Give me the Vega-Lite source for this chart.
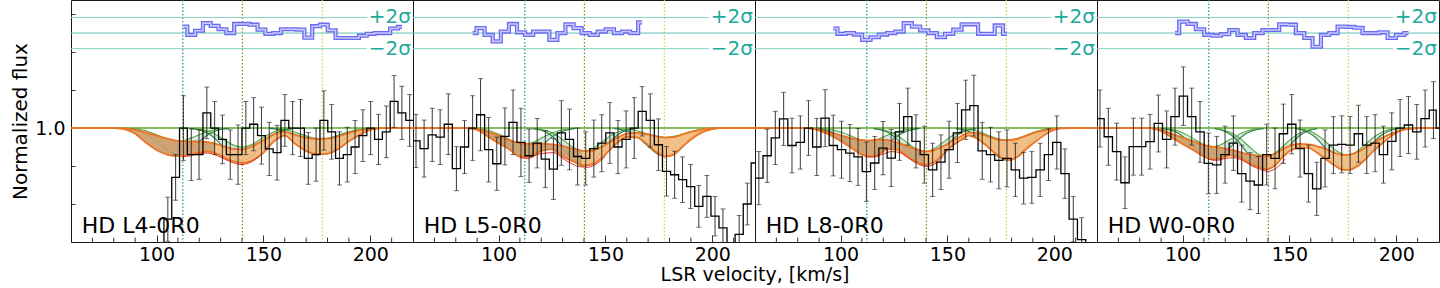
{
"$schema":"https://vega.github.io/schema/vega-lite/v6.json",
"padding":{"left":10,"top":-2,"right":0,"bottom":0},
"background":"white",
"bounds":"flush",
"data":{"values":[
{"k":"l","p":1,"t":"HD L4-0R0"},{"k":"l","p":2,"t":"HD L5-0R0"},{"k":"l","p":3,"t":"HD L8-0R0"},{"k":"l","p":4,"t":"HD W0-0R0"},
{"k":"v","p":1,"v":112.3,"c":"a"},{"k":"v","p":1,"v":140.2,"c":"b"},{"k":"v","p":1,"v":177.6,"c":"c"},
{"k":"v","p":2,"v":112.3,"c":"a"},{"k":"v","p":2,"v":140.2,"c":"b"},{"k":"v","p":2,"v":177.6,"c":"c"},
{"k":"v","p":3,"v":112.3,"c":"a"},{"k":"v","p":3,"v":140.2,"c":"b"},{"k":"v","p":3,"v":177.6,"c":"c"},
{"k":"v","p":4,"v":112.3,"c":"a"},{"k":"v","p":4,"v":140.2,"c":"b"},{"k":"v","p":4,"v":177.6,"c":"c"},
{"k":"g","p":1,"f":1.291,"t":"+2σ"},{"k":"g","p":1,"f":1.209,"t":"−2σ"},{"k":"g","p":1,"f":1.25,"t":""},
{"k":"g","p":2,"f":1.291,"t":"+2σ"},{"k":"g","p":2,"f":1.209,"t":"−2σ"},{"k":"g","p":2,"f":1.25,"t":""},
{"k":"g","p":3,"f":1.291,"t":"+2σ"},{"k":"g","p":3,"f":1.209,"t":"−2σ"},{"k":"g","p":3,"f":1.25,"t":""},
{"k":"g","p":4,"f":1.291,"t":"+2σ"},{"k":"g","p":4,"f":1.209,"t":"−2σ"},{"k":"g","p":4,"f":1.25,"t":""},
{"k":"t","p":1,"v":70},{"k":"t","p":1,"v":80},{"k":"t","p":1,"v":90},{"k":"t","p":1,"v":110},{"k":"t","p":1,"v":120},{"k":"t","p":1,"v":130},{"k":"t","p":1,"v":140},{"k":"t","p":1,"v":160},{"k":"t","p":1,"v":170},{"k":"t","p":1,"v":180},{"k":"t","p":1,"v":190},{"k":"t","p":1,"v":210},
{"k":"t","p":2,"v":70},{"k":"t","p":2,"v":80},{"k":"t","p":2,"v":90},{"k":"t","p":2,"v":110},{"k":"t","p":2,"v":120},{"k":"t","p":2,"v":130},{"k":"t","p":2,"v":140},{"k":"t","p":2,"v":160},{"k":"t","p":2,"v":170},{"k":"t","p":2,"v":180},{"k":"t","p":2,"v":190},{"k":"t","p":2,"v":210},
{"k":"t","p":3,"v":70},{"k":"t","p":3,"v":80},{"k":"t","p":3,"v":90},{"k":"t","p":3,"v":110},{"k":"t","p":3,"v":120},{"k":"t","p":3,"v":130},{"k":"t","p":3,"v":140},{"k":"t","p":3,"v":160},{"k":"t","p":3,"v":170},{"k":"t","p":3,"v":180},{"k":"t","p":3,"v":190},{"k":"t","p":3,"v":210},
{"k":"t","p":4,"v":70},{"k":"t","p":4,"v":80},{"k":"t","p":4,"v":90},{"k":"t","p":4,"v":110},{"k":"t","p":4,"v":120},{"k":"t","p":4,"v":130},{"k":"t","p":4,"v":140},{"k":"t","p":4,"v":160},{"k":"t","p":4,"v":170},{"k":"t","p":4,"v":180},{"k":"t","p":4,"v":190},{"k":"t","p":4,"v":210},

{"k":"s","p":1,"v":98.0,"f":0.55,"e":0.06},{"k":"s","p":1,"v":101.65,"f":0.69,"e":0.06},{"k":"s","p":1,"v":105.3,"f":0.76,"e":0.058},{"k":"s","p":1,"v":108.95,"f":0.87,"e":0.06},{"k":"s","p":1,"v":112.6,"f":1.0,"e":0.085},{"k":"s","p":1,"v":116.25,"f":0.93,"e":0.068},{"k":"s","p":1,"v":119.9,"f":0.93,"e":0.065},{"k":"s","p":1,"v":123.55,"f":1.04,"e":0.068},{"k":"s","p":1,"v":127.2,"f":1.0,"e":0.07},{"k":"s","p":1,"v":130.85,"f":0.97,"e":0.064},{"k":"s","p":1,"v":134.5,"f":0.93,"e":0.065},{"k":"s","p":1,"v":138.15,"f":0.93,"e":0.078},{"k":"s","p":1,"v":141.8,"f":1.0,"e":0.07},{"k":"s","p":1,"v":145.45,"f":1.01,"e":0.07},{"k":"s","p":1,"v":149.1,"f":0.98,"e":0.075},{"k":"s","p":1,"v":152.75,"f":0.945,"e":0.07},{"k":"s","p":1,"v":156.4,"f":0.935,"e":0.072},{"k":"s","p":1,"v":160.05,"f":1.02,"e":0.068},{"k":"s","p":1,"v":163.7,"f":1.0,"e":0.07},{"k":"s","p":1,"v":167.35,"f":1.0,"e":0.075},{"k":"s","p":1,"v":171.0,"f":0.92,"e":0.068},{"k":"s","p":1,"v":174.65,"f":0.93,"e":0.07},{"k":"s","p":1,"v":178.3,"f":1.02,"e":0.078},{"k":"s","p":1,"v":181.95,"f":0.99,"e":0.072},{"k":"s","p":1,"v":185.6,"f":0.92,"e":0.07},{"k":"s","p":1,"v":189.25,"f":0.93,"e":0.072},{"k":"s","p":1,"v":192.9,"f":0.95,"e":0.07},{"k":"s","p":1,"v":196.55,"f":0.98,"e":0.068},{"k":"s","p":1,"v":200.2,"f":1.0,"e":0.07},{"k":"s","p":1,"v":203.85,"f":0.97,"e":0.066},{"k":"s","p":1,"v":207.5,"f":0.99,"e":0.068},{"k":"s","p":1,"v":211.15,"f":1.07,"e":0.068},{"k":"s","p":1,"v":214.8,"f":1.04,"e":0.07},{"k":"s","p":1,"v":218.45,"f":1.02,"e":0.068},{"k":"s","p":1,"v":220,"f":1.02,"e":0.068},

{"k":"s","p":2,"v":60,"f":0.966,"e":0.07},{"k":"s","p":2,"v":61.4,"f":0.966,"e":0.07},{"k":"s","p":2,"v":65.2,"f":0.946,"e":0.075},{"k":"s","p":2,"v":69.0,"f":0.982,"e":0.07},{"k":"s","p":2,"v":72.7,"f":0.976,"e":0.072},{"k":"s","p":2,"v":76.5,"f":1.01,"e":0.08},{"k":"s","p":2,"v":80.3,"f":0.893,"e":0.058},{"k":"s","p":2,"v":84.1,"f":0.95,"e":0.07},{"k":"s","p":2,"v":87.9,"f":1.0,"e":0.085},{"k":"s","p":2,"v":91.6,"f":1.035,"e":0.095},{"k":"s","p":2,"v":95.4,"f":0.943,"e":0.085},{"k":"s","p":2,"v":99.2,"f":0.906,"e":0.07},{"k":"s","p":2,"v":103.0,"f":0.978,"e":0.075},{"k":"s","p":2,"v":106.8,"f":1.015,"e":0.085},{"k":"s","p":2,"v":110.5,"f":0.962,"e":0.09},{"k":"s","p":2,"v":114.3,"f":0.927,"e":0.07},{"k":"s","p":2,"v":118.1,"f":0.96,"e":0.065},{"k":"s","p":2,"v":121.9,"f":0.918,"e":0.075},{"k":"s","p":2,"v":125.7,"f":0.892,"e":0.08},{"k":"s","p":2,"v":129.4,"f":0.987,"e":0.085},{"k":"s","p":2,"v":133.2,"f":0.97,"e":0.08},{"k":"s","p":2,"v":137.0,"f":0.925,"e":0.075},{"k":"s","p":2,"v":140.8,"f":0.92,"e":0.07},{"k":"s","p":2,"v":144.6,"f":0.946,"e":0.075},{"k":"s","p":2,"v":148.3,"f":0.96,"e":0.075},{"k":"s","p":2,"v":152.1,"f":0.987,"e":0.08},{"k":"s","p":2,"v":155.9,"f":0.95,"e":0.07},{"k":"s","p":2,"v":159.7,"f":0.97,"e":0.075},{"k":"s","p":2,"v":163.5,"f":1.0,"e":0.08},{"k":"s","p":2,"v":167.2,"f":1.044,"e":0.065},{"k":"s","p":2,"v":171.0,"f":1.02,"e":0.07},{"k":"s","p":2,"v":174.8,"f":0.956,"e":0.068},{"k":"s","p":2,"v":178.6,"f":0.886,"e":0.065},{"k":"s","p":2,"v":182.4,"f":0.877,"e":0.062},{"k":"s","p":2,"v":186.1,"f":0.864,"e":0.06},{"k":"s","p":2,"v":189.9,"f":0.846,"e":0.058},{"k":"s","p":2,"v":193.7,"f":0.794,"e":0.055},{"k":"s","p":2,"v":197.5,"f":0.82,"e":0.055},{"k":"s","p":2,"v":201.3,"f":0.768,"e":0.052},{"k":"s","p":2,"v":205.0,"f":0.737,"e":0.05},{"k":"s","p":2,"v":208.8,"f":0.695,"e":0.05},{"k":"s","p":2,"v":212.6,"f":0.72,"e":0.05},{"k":"s","p":2,"v":216.4,"f":0.8,"e":0.055},{"k":"s","p":2,"v":220,"f":0.908,"e":0.06},

{"k":"s","p":3,"v":60,"f":0.868,"e":0.07},{"k":"s","p":3,"v":61.8,"f":0.868,"e":0.07},{"k":"s","p":3,"v":65.7,"f":0.927,"e":0.07},{"k":"s","p":3,"v":69.5,"f":0.974,"e":0.07},{"k":"s","p":3,"v":73.4,"f":1.024,"e":0.07},{"k":"s","p":3,"v":77.3,"f":0.954,"e":0.072},{"k":"s","p":3,"v":81.2,"f":0.962,"e":0.07},{"k":"s","p":3,"v":85.0,"f":1.0,"e":0.072},{"k":"s","p":3,"v":88.9,"f":0.95,"e":0.075},{"k":"s","p":3,"v":92.8,"f":1.026,"e":0.075},{"k":"s","p":3,"v":96.6,"f":0.954,"e":0.08},{"k":"s","p":3,"v":100.5,"f":0.943,"e":0.075},{"k":"s","p":3,"v":104.4,"f":0.934,"e":0.075},{"k":"s","p":3,"v":108.2,"f":0.924,"e":0.075},{"k":"s","p":3,"v":112.1,"f":0.885,"e":0.078},{"k":"s","p":3,"v":116.0,"f":0.908,"e":0.07},{"k":"s","p":3,"v":119.9,"f":0.947,"e":0.07},{"k":"s","p":3,"v":123.7,"f":0.921,"e":0.075},{"k":"s","p":3,"v":127.6,"f":0.99,"e":0.075},{"k":"s","p":3,"v":131.5,"f":1.03,"e":0.075},{"k":"s","p":3,"v":135.3,"f":0.965,"e":0.07},{"k":"s","p":3,"v":139.2,"f":0.93,"e":0.075},{"k":"s","p":3,"v":143.1,"f":0.89,"e":0.07},{"k":"s","p":3,"v":147.0,"f":0.91,"e":0.072},{"k":"s","p":3,"v":150.8,"f":0.943,"e":0.075},{"k":"s","p":3,"v":154.7,"f":0.987,"e":0.078},{"k":"s","p":3,"v":158.6,"f":1.048,"e":0.078},{"k":"s","p":3,"v":162.4,"f":1.059,"e":0.08},{"k":"s","p":3,"v":166.3,"f":0.94,"e":0.075},{"k":"s","p":3,"v":170.2,"f":0.93,"e":0.072},{"k":"s","p":3,"v":174.1,"f":0.915,"e":0.075},{"k":"s","p":3,"v":177.9,"f":0.92,"e":0.075},{"k":"s","p":3,"v":181.8,"f":0.89,"e":0.07},{"k":"s","p":3,"v":185.7,"f":0.868,"e":0.068},{"k":"s","p":3,"v":189.5,"f":0.87,"e":0.068},{"k":"s","p":3,"v":193.4,"f":0.89,"e":0.07},{"k":"s","p":3,"v":197.3,"f":0.93,"e":0.068},{"k":"s","p":3,"v":201.2,"f":0.962,"e":0.07},{"k":"s","p":3,"v":205.0,"f":0.88,"e":0.065},{"k":"s","p":3,"v":208.9,"f":0.76,"e":0.06},{"k":"s","p":3,"v":212.8,"f":0.706,"e":0.058},{"k":"s","p":3,"v":216.7,"f":0.62,"e":0.05},{"k":"s","p":3,"v":220,"f":0.58,"e":0.05},

{"k":"s","p":4,"v":60,"f":1.025,"e":0.075},{"k":"s","p":4,"v":61.4,"f":1.025,"e":0.075},{"k":"s","p":4,"v":65.3,"f":0.977,"e":0.075},{"k":"s","p":4,"v":69.2,"f":0.938,"e":0.075},{"k":"s","p":4,"v":73.1,"f":0.856,"e":0.068},{"k":"s","p":4,"v":77.0,"f":0.951,"e":0.075},{"k":"s","p":4,"v":80.9,"f":0.951,"e":0.075},{"k":"s","p":4,"v":84.8,"f":0.964,"e":0.072},{"k":"s","p":4,"v":88.7,"f":1.012,"e":0.075},{"k":"s","p":4,"v":92.6,"f":0.97,"e":0.075},{"k":"s","p":4,"v":96.5,"f":1.03,"e":0.075},{"k":"s","p":4,"v":100.4,"f":1.084,"e":0.077},{"k":"s","p":4,"v":104.3,"f":1.03,"e":0.075},{"k":"s","p":4,"v":108.2,"f":0.99,"e":0.08},{"k":"s","p":4,"v":112.1,"f":0.907,"e":0.08},{"k":"s","p":4,"v":116.0,"f":0.903,"e":0.075},{"k":"s","p":4,"v":119.9,"f":0.93,"e":0.075},{"k":"s","p":4,"v":123.8,"f":0.96,"e":0.072},{"k":"s","p":4,"v":127.7,"f":0.88,"e":0.075},{"k":"s","p":4,"v":131.6,"f":0.86,"e":0.075},{"k":"s","p":4,"v":135.5,"f":0.85,"e":0.075},{"k":"s","p":4,"v":139.4,"f":0.93,"e":0.08},{"k":"s","p":4,"v":143.3,"f":0.92,"e":0.08},{"k":"s","p":4,"v":147.2,"f":0.985,"e":0.078},{"k":"s","p":4,"v":151.1,"f":1.01,"e":0.078},{"k":"s","p":4,"v":155.0,"f":0.946,"e":0.075},{"k":"s","p":4,"v":158.9,"f":0.88,"e":0.075},{"k":"s","p":4,"v":162.8,"f":0.84,"e":0.07},{"k":"s","p":4,"v":166.7,"f":0.92,"e":0.075},{"k":"s","p":4,"v":170.6,"f":0.955,"e":0.075},{"k":"s","p":4,"v":174.5,"f":0.957,"e":0.075},{"k":"s","p":4,"v":178.4,"f":0.955,"e":0.075},{"k":"s","p":4,"v":182.3,"f":0.985,"e":0.075},{"k":"s","p":4,"v":186.2,"f":0.955,"e":0.075},{"k":"s","p":4,"v":190.1,"f":0.96,"e":0.075},{"k":"s","p":4,"v":194.0,"f":0.93,"e":0.075},{"k":"s","p":4,"v":197.9,"f":0.965,"e":0.075},{"k":"s","p":4,"v":201.8,"f":1.0,"e":0.075},{"k":"s","p":4,"v":205.7,"f":1.008,"e":0.075},{"k":"s","p":4,"v":209.6,"f":0.99,"e":0.072},{"k":"s","p":4,"v":213.5,"f":1.025,"e":0.075},{"k":"s","p":4,"v":217.4,"f":1.047,"e":0.075},{"k":"s","p":4,"v":220,"f":1.0,"e":0.075},

{"k":"b","p":1,"sg":"a","v":60,"hi":1,"lo":1},{"k":"b","p":1,"sg":"a","v":80,"hi":1,"lo":1},{"k":"b","p":1,"sg":"a","v":85,"hi":0.999,"lo":0.997},{"k":"b","p":1,"sg":"a","v":90,"hi":0.995,"lo":0.985},{"k":"b","p":1,"sg":"a","v":95,"hi":0.988,"lo":0.962},{"k":"b","p":1,"sg":"a","v":100,"hi":0.98,"lo":0.942},{"k":"b","p":1,"sg":"a","v":105,"hi":0.972,"lo":0.93},{"k":"b","p":1,"sg":"a","v":110,"hi":0.966,"lo":0.926},{"k":"b","p":1,"sg":"a","v":115,"hi":0.964,"lo":0.93},{"k":"b","p":1,"sg":"a","v":120,"hi":0.965,"lo":0.936},{"k":"b","p":1,"sg":"a","v":124,"hi":0.963,"lo":0.938},{"k":"b","p":1,"sg":"a","v":127,"hi":0.96,"lo":0.935},
{"k":"b","p":1,"sg":"b","v":127,"hi":0.96,"lo":0.935},{"k":"b","p":1,"sg":"b","v":130,"hi":0.954,"lo":0.928},{"k":"b","p":1,"sg":"b","v":135,"hi":0.946,"lo":0.914},{"k":"b","p":1,"sg":"b","v":140,"hi":0.944,"lo":0.908},{"k":"b","p":1,"sg":"b","v":145,"hi":0.952,"lo":0.915},{"k":"b","p":1,"sg":"b","v":150,"hi":0.968,"lo":0.935},{"k":"b","p":1,"sg":"b","v":155,"hi":0.984,"lo":0.965},{"k":"b","p":1,"sg":"b","v":160,"hi":0.99,"lo":0.98},{"k":"b","p":1,"sg":"b","v":165,"hi":0.982,"lo":0.958},{"k":"b","p":1,"sg":"b","v":170,"hi":0.974,"lo":0.94},{"k":"b","p":1,"sg":"b","v":175,"hi":0.971,"lo":0.931},{"k":"b","p":1,"sg":"b","v":180,"hi":0.972,"lo":0.932},{"k":"b","p":1,"sg":"b","v":185,"hi":0.978,"lo":0.945},{"k":"b","p":1,"sg":"b","v":190,"hi":0.987,"lo":0.965},{"k":"b","p":1,"sg":"b","v":195,"hi":0.994,"lo":0.982},{"k":"b","p":1,"sg":"b","v":200,"hi":0.998,"lo":0.995},{"k":"b","p":1,"sg":"b","v":205,"hi":1,"lo":1},{"k":"b","p":1,"sg":"b","v":220,"hi":1,"lo":1},

{"k":"b","p":2,"sg":"a","v":60,"hi":1,"lo":1},{"k":"b","p":2,"sg":"a","v":85,"hi":1,"lo":1},{"k":"b","p":2,"sg":"a","v":90,"hi":0.998,"lo":0.995},{"k":"b","p":2,"sg":"a","v":95,"hi":0.99,"lo":0.978},{"k":"b","p":2,"sg":"a","v":100,"hi":0.98,"lo":0.96},{"k":"b","p":2,"sg":"a","v":105,"hi":0.968,"lo":0.944},{"k":"b","p":2,"sg":"a","v":110,"hi":0.96,"lo":0.925},{"k":"b","p":2,"sg":"a","v":115,"hi":0.958,"lo":0.924},{"k":"b","p":2,"sg":"a","v":120,"hi":0.959,"lo":0.94},{"k":"b","p":2,"sg":"a","v":125,"hi":0.957,"lo":0.944},{"k":"b","p":2,"sg":"a","v":130,"hi":0.953,"lo":0.925},{"k":"b","p":2,"sg":"a","v":135,"hi":0.945,"lo":0.912},{"k":"b","p":2,"sg":"a","v":139,"hi":0.94,"lo":0.902},
{"k":"b","p":2,"sg":"b","v":139,"hi":0.94,"lo":0.902},{"k":"b","p":2,"sg":"b","v":143,"hi":0.94,"lo":0.903},{"k":"b","p":2,"sg":"b","v":148,"hi":0.95,"lo":0.92},{"k":"b","p":2,"sg":"b","v":152,"hi":0.963,"lo":0.942},{"k":"b","p":2,"sg":"b","v":156,"hi":0.976,"lo":0.963},{"k":"b","p":2,"sg":"b","v":160,"hi":0.985,"lo":0.977},{"k":"b","p":2,"sg":"b","v":165,"hi":0.987,"lo":0.975},{"k":"b","p":2,"sg":"b","v":170,"hi":0.983,"lo":0.955},{"k":"b","p":2,"sg":"b","v":175,"hi":0.977,"lo":0.932},{"k":"b","p":2,"sg":"b","v":178,"hi":0.975,"lo":0.925},{"k":"b","p":2,"sg":"b","v":182,"hi":0.976,"lo":0.93},{"k":"b","p":2,"sg":"b","v":186,"hi":0.983,"lo":0.95},{"k":"b","p":2,"sg":"b","v":190,"hi":0.99,"lo":0.97},{"k":"b","p":2,"sg":"b","v":195,"hi":0.996,"lo":0.988},{"k":"b","p":2,"sg":"b","v":200,"hi":1,"lo":0.997},{"k":"b","p":2,"sg":"b","v":205,"hi":1,"lo":1},{"k":"b","p":2,"sg":"b","v":220,"hi":1,"lo":1},

{"k":"b","p":3,"sg":"a","v":60,"hi":1,"lo":1},{"k":"b","p":3,"sg":"a","v":85,"hi":1,"lo":1},{"k":"b","p":3,"sg":"a","v":90,"hi":0.996,"lo":0.993},{"k":"b","p":3,"sg":"a","v":95,"hi":0.988,"lo":0.982},{"k":"b","p":3,"sg":"a","v":100,"hi":0.981,"lo":0.966},{"k":"b","p":3,"sg":"a","v":105,"hi":0.973,"lo":0.948},{"k":"b","p":3,"sg":"a","v":110,"hi":0.968,"lo":0.93},{"k":"b","p":3,"sg":"a","v":114,"hi":0.967,"lo":0.925},{"k":"b","p":3,"sg":"a","v":118,"hi":0.97,"lo":0.93},{"k":"b","p":3,"sg":"a","v":122,"hi":0.968,"lo":0.945},{"k":"b","p":3,"sg":"a","v":126,"hi":0.963,"lo":0.944},{"k":"b","p":3,"sg":"a","v":130,"hi":0.955,"lo":0.93},{"k":"b","p":3,"sg":"a","v":135,"hi":0.945,"lo":0.912},{"k":"b","p":3,"sg":"a","v":139.5,"hi":0.938,"lo":0.903},
{"k":"b","p":3,"sg":"b","v":139.5,"hi":0.938,"lo":0.903},{"k":"b","p":3,"sg":"b","v":144,"hi":0.942,"lo":0.91},{"k":"b","p":3,"sg":"b","v":148,"hi":0.952,"lo":0.93},{"k":"b","p":3,"sg":"b","v":152,"hi":0.965,"lo":0.952},{"k":"b","p":3,"sg":"b","v":156,"hi":0.977,"lo":0.967},{"k":"b","p":3,"sg":"b","v":160,"hi":0.988,"lo":0.98},{"k":"b","p":3,"sg":"b","v":164,"hi":0.986,"lo":0.972},{"k":"b","p":3,"sg":"b","v":168,"hi":0.98,"lo":0.955},{"k":"b","p":3,"sg":"b","v":172,"hi":0.972,"lo":0.935},{"k":"b","p":3,"sg":"b","v":176,"hi":0.968,"lo":0.92},{"k":"b","p":3,"sg":"b","v":179,"hi":0.968,"lo":0.915},{"k":"b","p":3,"sg":"b","v":183,"hi":0.972,"lo":0.925},{"k":"b","p":3,"sg":"b","v":187,"hi":0.98,"lo":0.945},{"k":"b","p":3,"sg":"b","v":191,"hi":0.988,"lo":0.963},{"k":"b","p":3,"sg":"b","v":195,"hi":0.994,"lo":0.98},{"k":"b","p":3,"sg":"b","v":199,"hi":0.998,"lo":0.993},{"k":"b","p":3,"sg":"b","v":203,"hi":1,"lo":0.999},{"k":"b","p":3,"sg":"b","v":208,"hi":1,"lo":1},{"k":"b","p":3,"sg":"b","v":220,"hi":1,"lo":1},

{"k":"b","p":4,"sg":"a","v":60,"hi":1,"lo":1},{"k":"b","p":4,"sg":"a","v":85,"hi":1,"lo":1},{"k":"b","p":4,"sg":"a","v":90,"hi":0.995,"lo":0.992},{"k":"b","p":4,"sg":"a","v":95,"hi":0.985,"lo":0.975},{"k":"b","p":4,"sg":"a","v":100,"hi":0.975,"lo":0.958},{"k":"b","p":4,"sg":"a","v":105,"hi":0.965,"lo":0.942},{"k":"b","p":4,"sg":"a","v":110,"hi":0.955,"lo":0.925},{"k":"b","p":4,"sg":"a","v":114,"hi":0.951,"lo":0.917},{"k":"b","p":4,"sg":"a","v":118,"hi":0.948,"lo":0.92},{"k":"b","p":4,"sg":"a","v":122,"hi":0.944,"lo":0.928},{"k":"b","p":4,"sg":"a","v":126,"hi":0.938,"lo":0.925},{"k":"b","p":4,"sg":"a","v":130,"hi":0.932,"lo":0.912},{"k":"b","p":4,"sg":"a","v":135,"hi":0.927,"lo":0.898},{"k":"b","p":4,"sg":"a","v":139.5,"hi":0.925,"lo":0.891},
{"k":"b","p":4,"sg":"b","v":139.5,"hi":0.925,"lo":0.891},{"k":"b","p":4,"sg":"b","v":143,"hi":0.932,"lo":0.9},{"k":"b","p":4,"sg":"b","v":147,"hi":0.945,"lo":0.924},{"k":"b","p":4,"sg":"b","v":151,"hi":0.955,"lo":0.942},{"k":"b","p":4,"sg":"b","v":155,"hi":0.958,"lo":0.949},{"k":"b","p":4,"sg":"b","v":159,"hi":0.957,"lo":0.948},{"k":"b","p":4,"sg":"b","v":163,"hi":0.952,"lo":0.935},{"k":"b","p":4,"sg":"b","v":167,"hi":0.945,"lo":0.918},{"k":"b","p":4,"sg":"b","v":171,"hi":0.935,"lo":0.902},{"k":"b","p":4,"sg":"b","v":175,"hi":0.929,"lo":0.89},{"k":"b","p":4,"sg":"b","v":178,"hi":0.93,"lo":0.89},{"k":"b","p":4,"sg":"b","v":182,"hi":0.937,"lo":0.9},{"k":"b","p":4,"sg":"b","v":186,"hi":0.95,"lo":0.92},{"k":"b","p":4,"sg":"b","v":190,"hi":0.963,"lo":0.943},{"k":"b","p":4,"sg":"b","v":194,"hi":0.976,"lo":0.962},{"k":"b","p":4,"sg":"b","v":198,"hi":0.986,"lo":0.98},{"k":"b","p":4,"sg":"b","v":202,"hi":0.994,"lo":0.993},{"k":"b","p":4,"sg":"b","v":206,"hi":0.998,"lo":0.998},{"k":"b","p":4,"sg":"b","v":210,"hi":1,"lo":1},{"k":"b","p":4,"sg":"b","v":220,"hi":1,"lo":1},

{"k":"c","p":1,"c":1,"v":86,"hi":0.999,"lo":0.999},{"k":"c","p":1,"c":1,"v":90,"hi":0.998,"lo":0.996},{"k":"c","p":1,"c":1,"v":94,"hi":0.994,"lo":0.988},{"k":"c","p":1,"c":1,"v":98,"hi":0.987,"lo":0.974},{"k":"c","p":1,"c":1,"v":102,"hi":0.978,"lo":0.955},{"k":"c","p":1,"c":1,"v":106,"hi":0.969,"lo":0.937},{"k":"c","p":1,"c":1,"v":110,"hi":0.965,"lo":0.93},{"k":"c","p":1,"c":1,"v":114,"hi":0.969,"lo":0.937},{"k":"c","p":1,"c":1,"v":118,"hi":0.978,"lo":0.955},{"k":"c","p":1,"c":1,"v":122,"hi":0.987,"lo":0.974},{"k":"c","p":1,"c":1,"v":126,"hi":0.994,"lo":0.988},{"k":"c","p":1,"c":1,"v":130,"hi":0.998,"lo":0.996},{"k":"c","p":1,"c":1,"v":134,"hi":0.999,"lo":0.999},
{"k":"c","p":1,"c":2,"v":116,"hi":0.999,"lo":0.998},{"k":"c","p":1,"c":2,"v":120,"hi":0.997,"lo":0.995},{"k":"c","p":1,"c":2,"v":124,"hi":0.992,"lo":0.986},{"k":"c","p":1,"c":2,"v":128,"hi":0.982,"lo":0.969},{"k":"c","p":1,"c":2,"v":132,"hi":0.968,"lo":0.945},{"k":"c","p":1,"c":2,"v":136,"hi":0.955,"lo":0.924},{"k":"c","p":1,"c":2,"v":140,"hi":0.95,"lo":0.915},{"k":"c","p":1,"c":2,"v":144,"hi":0.955,"lo":0.924},{"k":"c","p":1,"c":2,"v":148,"hi":0.968,"lo":0.945},{"k":"c","p":1,"c":2,"v":152,"hi":0.982,"lo":0.969},{"k":"c","p":1,"c":2,"v":156,"hi":0.992,"lo":0.986},{"k":"c","p":1,"c":2,"v":160,"hi":0.997,"lo":0.995},{"k":"c","p":1,"c":2,"v":164,"hi":0.999,"lo":0.998},
{"k":"c","p":1,"c":3,"v":153,"hi":0.999,"lo":0.999},{"k":"c","p":1,"c":3,"v":157,"hi":0.998,"lo":0.996},{"k":"c","p":1,"c":3,"v":161,"hi":0.995,"lo":0.988},{"k":"c","p":1,"c":3,"v":165,"hi":0.989,"lo":0.975},{"k":"c","p":1,"c":3,"v":169,"hi":0.981,"lo":0.956},{"k":"c","p":1,"c":3,"v":173,"hi":0.974,"lo":0.939},{"k":"c","p":1,"c":3,"v":177,"hi":0.971,"lo":0.932},{"k":"c","p":1,"c":3,"v":181,"hi":0.974,"lo":0.939},{"k":"c","p":1,"c":3,"v":185,"hi":0.981,"lo":0.956},{"k":"c","p":1,"c":3,"v":189,"hi":0.989,"lo":0.975},{"k":"c","p":1,"c":3,"v":193,"hi":0.995,"lo":0.988},{"k":"c","p":1,"c":3,"v":197,"hi":0.998,"lo":0.996},{"k":"c","p":1,"c":3,"v":201,"hi":0.999,"lo":0.999},

{"k":"c","p":2,"c":1,"v":88,"hi":0.999,"lo":0.999},{"k":"c","p":2,"c":1,"v":92,"hi":0.997,"lo":0.995},{"k":"c","p":2,"c":1,"v":96,"hi":0.993,"lo":0.987},{"k":"c","p":2,"c":1,"v":100,"hi":0.984,"lo":0.972},{"k":"c","p":2,"c":1,"v":104,"hi":0.973,"lo":0.951},{"k":"c","p":2,"c":1,"v":108,"hi":0.962,"lo":0.932},{"k":"c","p":2,"c":1,"v":112,"hi":0.958,"lo":0.924},{"k":"c","p":2,"c":1,"v":116,"hi":0.962,"lo":0.932},{"k":"c","p":2,"c":1,"v":120,"hi":0.973,"lo":0.951},{"k":"c","p":2,"c":1,"v":124,"hi":0.984,"lo":0.972},{"k":"c","p":2,"c":1,"v":128,"hi":0.993,"lo":0.987},{"k":"c","p":2,"c":1,"v":132,"hi":0.997,"lo":0.995},{"k":"c","p":2,"c":1,"v":136,"hi":0.999,"lo":0.999},
{"k":"c","p":2,"c":2,"v":116,"hi":0.999,"lo":0.998},{"k":"c","p":2,"c":2,"v":120,"hi":0.996,"lo":0.994},{"k":"c","p":2,"c":2,"v":124,"hi":0.99,"lo":0.983},{"k":"c","p":2,"c":2,"v":128,"hi":0.978,"lo":0.963},{"k":"c","p":2,"c":2,"v":132,"hi":0.961,"lo":0.936},{"k":"c","p":2,"c":2,"v":136,"hi":0.946,"lo":0.91},{"k":"c","p":2,"c":2,"v":140,"hi":0.94,"lo":0.9},{"k":"c","p":2,"c":2,"v":144,"hi":0.946,"lo":0.91},{"k":"c","p":2,"c":2,"v":148,"hi":0.961,"lo":0.936},{"k":"c","p":2,"c":2,"v":152,"hi":0.978,"lo":0.963},{"k":"c","p":2,"c":2,"v":156,"hi":0.99,"lo":0.983},{"k":"c","p":2,"c":2,"v":160,"hi":0.996,"lo":0.994},{"k":"c","p":2,"c":2,"v":164,"hi":0.999,"lo":0.998},
{"k":"c","p":2,"c":3,"v":154,"hi":1,"lo":0.999},{"k":"c","p":2,"c":3,"v":158,"hi":0.998,"lo":0.995},{"k":"c","p":2,"c":3,"v":162,"hi":0.996,"lo":0.987},{"k":"c","p":2,"c":3,"v":166,"hi":0.991,"lo":0.972},{"k":"c","p":2,"c":3,"v":170,"hi":0.984,"lo":0.952},{"k":"c","p":2,"c":3,"v":174,"hi":0.978,"lo":0.933},{"k":"c","p":2,"c":3,"v":178,"hi":0.975,"lo":0.925},{"k":"c","p":2,"c":3,"v":182,"hi":0.978,"lo":0.933},{"k":"c","p":2,"c":3,"v":186,"hi":0.984,"lo":0.952},{"k":"c","p":2,"c":3,"v":190,"hi":0.991,"lo":0.972},{"k":"c","p":2,"c":3,"v":194,"hi":0.996,"lo":0.987},{"k":"c","p":2,"c":3,"v":198,"hi":0.998,"lo":0.995},{"k":"c","p":2,"c":3,"v":202,"hi":1,"lo":0.999},

{"k":"c","p":3,"c":1,"v":89,"hi":0.999,"lo":0.999},{"k":"c","p":3,"c":1,"v":93,"hi":0.998,"lo":0.995},{"k":"c","p":3,"c":1,"v":97,"hi":0.994,"lo":0.987},{"k":"c","p":3,"c":1,"v":101,"hi":0.988,"lo":0.972},{"k":"c","p":3,"c":1,"v":105,"hi":0.979,"lo":0.952},{"k":"c","p":3,"c":1,"v":109,"hi":0.97,"lo":0.933},{"k":"c","p":3,"c":1,"v":113,"hi":0.967,"lo":0.925},{"k":"c","p":3,"c":1,"v":117,"hi":0.97,"lo":0.933},{"k":"c","p":3,"c":1,"v":121,"hi":0.979,"lo":0.952},{"k":"c","p":3,"c":1,"v":125,"hi":0.988,"lo":0.972},{"k":"c","p":3,"c":1,"v":129,"hi":0.994,"lo":0.987},{"k":"c","p":3,"c":1,"v":133,"hi":0.998,"lo":0.995},{"k":"c","p":3,"c":1,"v":137,"hi":0.999,"lo":0.999},
{"k":"c","p":3,"c":2,"v":115.5,"hi":0.999,"lo":0.998},{"k":"c","p":3,"c":2,"v":119.5,"hi":0.996,"lo":0.994},{"k":"c","p":3,"c":2,"v":123.5,"hi":0.989,"lo":0.984},{"k":"c","p":3,"c":2,"v":127.5,"hi":0.977,"lo":0.964},{"k":"c","p":3,"c":2,"v":131.5,"hi":0.96,"lo":0.938},{"k":"c","p":3,"c":2,"v":135.5,"hi":0.945,"lo":0.913},{"k":"c","p":3,"c":2,"v":139.5,"hi":0.938,"lo":0.903},{"k":"c","p":3,"c":2,"v":143.5,"hi":0.945,"lo":0.913},{"k":"c","p":3,"c":2,"v":147.5,"hi":0.96,"lo":0.938},{"k":"c","p":3,"c":2,"v":151.5,"hi":0.977,"lo":0.964},{"k":"c","p":3,"c":2,"v":155.5,"hi":0.989,"lo":0.984},{"k":"c","p":3,"c":2,"v":159.5,"hi":0.996,"lo":0.994},{"k":"c","p":3,"c":2,"v":163.5,"hi":0.999,"lo":0.998},
{"k":"c","p":3,"c":3,"v":154,"hi":0.999,"lo":0.998},{"k":"c","p":3,"c":3,"v":158,"hi":0.998,"lo":0.995},{"k":"c","p":3,"c":3,"v":162,"hi":0.995,"lo":0.986},{"k":"c","p":3,"c":3,"v":166,"hi":0.988,"lo":0.969},{"k":"c","p":3,"c":3,"v":170,"hi":0.979,"lo":0.945},{"k":"c","p":3,"c":3,"v":174,"hi":0.971,"lo":0.924},{"k":"c","p":3,"c":3,"v":178,"hi":0.968,"lo":0.915},{"k":"c","p":3,"c":3,"v":182,"hi":0.971,"lo":0.924},{"k":"c","p":3,"c":3,"v":186,"hi":0.979,"lo":0.945},{"k":"c","p":3,"c":3,"v":190,"hi":0.988,"lo":0.969},{"k":"c","p":3,"c":3,"v":194,"hi":0.995,"lo":0.986},{"k":"c","p":3,"c":3,"v":198,"hi":0.998,"lo":0.995},{"k":"c","p":3,"c":3,"v":202,"hi":0.999,"lo":0.998},

{"k":"c","p":4,"c":1,"v":90,"hi":0.999,"lo":0.998},{"k":"c","p":4,"c":1,"v":94,"hi":0.997,"lo":0.995},{"k":"c","p":4,"c":1,"v":98,"hi":0.992,"lo":0.986},{"k":"c","p":4,"c":1,"v":102,"hi":0.982,"lo":0.969},{"k":"c","p":4,"c":1,"v":106,"hi":0.969,"lo":0.947},{"k":"c","p":4,"c":1,"v":110,"hi":0.956,"lo":0.926},{"k":"c","p":4,"c":1,"v":114,"hi":0.951,"lo":0.917},{"k":"c","p":4,"c":1,"v":118,"hi":0.956,"lo":0.926},{"k":"c","p":4,"c":1,"v":122,"hi":0.969,"lo":0.947},{"k":"c","p":4,"c":1,"v":126,"hi":0.982,"lo":0.969},{"k":"c","p":4,"c":1,"v":130,"hi":0.992,"lo":0.986},{"k":"c","p":4,"c":1,"v":134,"hi":0.997,"lo":0.995},{"k":"c","p":4,"c":1,"v":138,"hi":0.999,"lo":0.998},
{"k":"c","p":4,"c":2,"v":115,"hi":0.999,"lo":0.998},{"k":"c","p":4,"c":2,"v":119,"hi":0.995,"lo":0.993},{"k":"c","p":4,"c":2,"v":123,"hi":0.987,"lo":0.981},{"k":"c","p":4,"c":2,"v":127,"hi":0.972,"lo":0.959},{"k":"c","p":4,"c":2,"v":131,"hi":0.952,"lo":0.929},{"k":"c","p":4,"c":2,"v":135,"hi":0.933,"lo":0.902},{"k":"c","p":4,"c":2,"v":139,"hi":0.925,"lo":0.89},{"k":"c","p":4,"c":2,"v":143,"hi":0.933,"lo":0.902},{"k":"c","p":4,"c":2,"v":147,"hi":0.952,"lo":0.929},{"k":"c","p":4,"c":2,"v":151,"hi":0.972,"lo":0.959},{"k":"c","p":4,"c":2,"v":155,"hi":0.987,"lo":0.981},{"k":"c","p":4,"c":2,"v":159,"hi":0.995,"lo":0.993},{"k":"c","p":4,"c":2,"v":163,"hi":0.999,"lo":0.998},
{"k":"c","p":4,"c":3,"v":153,"hi":0.999,"lo":0.998},{"k":"c","p":4,"c":3,"v":157,"hi":0.996,"lo":0.993},{"k":"c","p":4,"c":3,"v":161,"hi":0.988,"lo":0.981},{"k":"c","p":4,"c":3,"v":165,"hi":0.974,"lo":0.959},{"k":"c","p":4,"c":3,"v":169,"hi":0.954,"lo":0.929},{"k":"c","p":4,"c":3,"v":173,"hi":0.936,"lo":0.902},{"k":"c","p":4,"c":3,"v":177,"hi":0.929,"lo":0.89},{"k":"c","p":4,"c":3,"v":181,"hi":0.936,"lo":0.902},{"k":"c","p":4,"c":3,"v":185,"hi":0.954,"lo":0.929},{"k":"c","p":4,"c":3,"v":189,"hi":0.974,"lo":0.959},{"k":"c","p":4,"c":3,"v":193,"hi":0.988,"lo":0.981},{"k":"c","p":4,"c":3,"v":197,"hi":0.996,"lo":0.993},{"k":"c","p":4,"c":3,"v":201,"hi":0.999,"lo":0.998},

{"k":"r","p":1,"v":112,"f":0.924},{"k":"r","p":1,"v":116,"f":0.927},{"k":"r","p":1,"v":120,"f":0.933},{"k":"r","p":1,"v":124,"f":0.934},{"k":"r","p":1,"v":128,"f":0.928},{"k":"r","p":1,"v":132,"f":0.918},{"k":"r","p":1,"v":136,"f":0.908},{"k":"r","p":1,"v":140,"f":0.904},{"k":"r","p":1,"v":144,"f":0.91},{"k":"r","p":1,"v":148,"f":0.925},
{"k":"r","p":2,"v":110,"f":0.922},{"k":"r","p":2,"v":114,"f":0.92},{"k":"r","p":2,"v":118,"f":0.93},{"k":"r","p":2,"v":122,"f":0.934},{"k":"r","p":2,"v":126,"f":0.935},{"k":"r","p":2,"v":130,"f":0.92},{"k":"r","p":2,"v":134,"f":0.907},{"k":"r","p":2,"v":138,"f":0.898},{"k":"r","p":2,"v":142,"f":0.897},{"k":"r","p":2,"v":146,"f":0.906},{"k":"r","p":2,"v":150,"f":0.925},
{"k":"r","p":3,"v":112,"f":0.924},{"k":"r","p":3,"v":116,"f":0.924},{"k":"r","p":3,"v":120,"f":0.932},{"k":"r","p":3,"v":124,"f":0.938},{"k":"r","p":3,"v":128,"f":0.935},{"k":"r","p":3,"v":132,"f":0.92},{"k":"r","p":3,"v":136,"f":0.906},{"k":"r","p":3,"v":140,"f":0.899},{"k":"r","p":3,"v":144,"f":0.905},{"k":"r","p":3,"v":148,"f":0.925},
{"k":"r","p":4,"v":112,"f":0.918},{"k":"r","p":4,"v":116,"f":0.915},{"k":"r","p":4,"v":120,"f":0.92},{"k":"r","p":4,"v":124,"f":0.922},{"k":"r","p":4,"v":128,"f":0.915},{"k":"r","p":4,"v":132,"f":0.902},{"k":"r","p":4,"v":136,"f":0.892},{"k":"r","p":4,"v":140,"f":0.886},{"k":"r","p":4,"v":144,"f":0.895},{"k":"r","p":4,"v":148,"f":0.918},

{"k":"q","p":1,"v":112.6,"f":1.267},{"k":"q","p":1,"v":116.25,"f":1.245},{"k":"q","p":1,"v":119.9,"f":1.256},{"k":"q","p":1,"v":123.55,"f":1.276},{"k":"q","p":1,"v":127.2,"f":1.269},{"k":"q","p":1,"v":130.85,"f":1.26},{"k":"q","p":1,"v":134.5,"f":1.25},{"k":"q","p":1,"v":138.15,"f":1.274},{"k":"q","p":1,"v":141.8,"f":1.274},{"k":"q","p":1,"v":145.45,"f":1.272},{"k":"q","p":1,"v":149.1,"f":1.259},{"k":"q","p":1,"v":152.75,"f":1.248},{"k":"q","p":1,"v":156.4,"f":1.25},{"k":"q","p":1,"v":160.05,"f":1.26},{"k":"q","p":1,"v":163.7,"f":1.26},{"k":"q","p":1,"v":167.35,"f":1.259},{"k":"q","p":1,"v":171.0,"f":1.238},{"k":"q","p":1,"v":174.65,"f":1.268},{"k":"q","p":1,"v":178.3,"f":1.272},{"k":"q","p":1,"v":181.95,"f":1.257},{"k":"q","p":1,"v":185.6,"f":1.237},{"k":"q","p":1,"v":189.25,"f":1.237},{"k":"q","p":1,"v":192.9,"f":1.237},{"k":"q","p":1,"v":196.55,"f":1.243},{"k":"q","p":1,"v":200.2,"f":1.248},{"k":"q","p":1,"v":203.85,"f":1.25},{"k":"q","p":1,"v":207.5,"f":1.25},{"k":"q","p":1,"v":211.15,"f":1.262},{"k":"q","p":1,"v":214.8,"f":1.266},
{"k":"q","p":2,"v":87.9,"f":1.25},{"k":"q","p":2,"v":91.6,"f":1.263},{"k":"q","p":2,"v":95.4,"f":1.245},{"k":"q","p":2,"v":99.2,"f":1.228},{"k":"q","p":2,"v":103.0,"f":1.254},{"k":"q","p":2,"v":106.8,"f":1.274},{"k":"q","p":2,"v":110.5,"f":1.252},{"k":"q","p":2,"v":114.3,"f":1.245},{"k":"q","p":2,"v":118.1,"f":1.254},{"k":"q","p":2,"v":121.9,"f":1.254},{"k":"q","p":2,"v":125.7,"f":1.232},{"k":"q","p":2,"v":129.4,"f":1.25},{"k":"q","p":2,"v":133.2,"f":1.273},{"k":"q","p":2,"v":137.0,"f":1.263},{"k":"q","p":2,"v":140.8,"f":1.25},{"k":"q","p":2,"v":144.6,"f":1.245},{"k":"q","p":2,"v":148.3,"f":1.254},{"k":"q","p":2,"v":152.1,"f":1.26},{"k":"q","p":2,"v":155.9,"f":1.25},{"k":"q","p":2,"v":159.7,"f":1.254},{"k":"q","p":2,"v":163.5,"f":1.25},{"k":"q","p":2,"v":167.2,"f":1.278},
{"k":"q","p":3,"v":96.6,"f":1.262},{"k":"q","p":3,"v":100.5,"f":1.248},{"k":"q","p":3,"v":104.4,"f":1.25},{"k":"q","p":3,"v":108.2,"f":1.246},{"k":"q","p":3,"v":112.1,"f":1.232},{"k":"q","p":3,"v":116.0,"f":1.239},{"k":"q","p":3,"v":119.9,"f":1.246},{"k":"q","p":3,"v":123.7,"f":1.25},{"k":"q","p":3,"v":127.6,"f":1.254},{"k":"q","p":3,"v":131.5,"f":1.276},{"k":"q","p":3,"v":135.3,"f":1.267},{"k":"q","p":3,"v":139.2,"f":1.257},{"k":"q","p":3,"v":143.1,"f":1.25},{"k":"q","p":3,"v":147.0,"f":1.239},{"k":"q","p":3,"v":150.8,"f":1.248},{"k":"q","p":3,"v":154.7,"f":1.259},{"k":"q","p":3,"v":158.6,"f":1.273},{"k":"q","p":3,"v":162.4,"f":1.273},{"k":"q","p":3,"v":166.3,"f":1.248},{"k":"q","p":3,"v":170.2,"f":1.248},{"k":"q","p":3,"v":174.1,"f":1.27},{"k":"q","p":3,"v":177.9,"f":1.248},
{"k":"q","p":4,"v":96.5,"f":1.25},{"k":"q","p":4,"v":100.4,"f":1.28},{"k":"q","p":4,"v":104.3,"f":1.274},{"k":"q","p":4,"v":108.2,"f":1.26},{"k":"q","p":4,"v":112.1,"f":1.245},{"k":"q","p":4,"v":116.0,"f":1.243},{"k":"q","p":4,"v":119.9,"f":1.247},{"k":"q","p":4,"v":123.8,"f":1.258},{"k":"q","p":4,"v":127.7,"f":1.245},{"k":"q","p":4,"v":131.6,"f":1.237},{"k":"q","p":4,"v":135.5,"f":1.25},{"k":"q","p":4,"v":139.4,"f":1.258},{"k":"q","p":4,"v":143.3,"f":1.258},{"k":"q","p":4,"v":147.2,"f":1.273},{"k":"q","p":4,"v":151.1,"f":1.272},{"k":"q","p":4,"v":155.0,"f":1.25},{"k":"q","p":4,"v":158.9,"f":1.237},{"k":"q","p":4,"v":162.8,"f":1.214},{"k":"q","p":4,"v":166.7,"f":1.245},{"k":"q","p":4,"v":170.6,"f":1.25},{"k":"q","p":4,"v":174.5,"f":1.267},{"k":"q","p":4,"v":178.4,"f":1.266},{"k":"q","p":4,"v":182.3,"f":1.264},{"k":"q","p":4,"v":186.2,"f":1.25},{"k":"q","p":4,"v":190.1,"f":1.25},{"k":"q","p":4,"v":194.0,"f":1.252},{"k":"q","p":4,"v":197.9,"f":1.237},{"k":"q","p":4,"v":201.8,"f":1.245},{"k":"q","p":4,"v":205.7,"f":1.25}
]},
"facet":{"column":{"field":"p","type":"ordinal","title":"LSR velocity, [km/s]","header":{"labels":false,"titleOrient":"bottom","titleFont":"DejaVu Sans","titleFontSize":19,"titleFontWeight":"normal","titleColor":"#000","titlePadding":-8}}},
"spacing":{"column":0},
"spec":{
"width":342,"height":242,
"layer":[
{"transform":[{"filter":"datum.k==='b' && datum.sg==='a'"}],
 "mark":{"type":"area","interpolate":"monotone","color":"#d2a273","opacity":0.9,"clip":true},
 "encoding":{
  "x":{"field":"v","type":"quantitative","scale":{"domain":[60,220],"nice":false,"zero":false},
   "axis":{"title":null,"values":[100,150,200],"tickSize":-7,"labelPadding":10,"labelOverlap":false,"labelFlush":false}},
  "y":{"field":"hi","type":"quantitative","scale":{"domain":[0.7,1.337],"nice":false,"zero":false},
   "axis":{"title":"Normalized flux","values":[0.7,0.8,0.9,1,1.1,1.2,1.3],"labelExpr":"abs(datum.value-1)<0.001 ? '1.0' : ''","tickSize":-4,"labelPadding":10,"labelOverlap":false,"titleFontSize":20,"titlePadding":4}},
  "y2":{"field":"lo"}}},
{"transform":[{"filter":"datum.k==='t'"}],
 "mark":{"type":"rule","color":"#333","strokeWidth":1},
 "encoding":{"x":{"field":"v","type":"quantitative"},"y":{"datum":0.7,"type":"quantitative"},"y2":{"datum":0.7115}}},
{"transform":[{"filter":"datum.k==='v'"}],
 "mark":{"type":"rule","strokeDash":[1.5,2],"strokeWidth":1.2},
 "encoding":{"x":{"field":"v","type":"quantitative"},
  "color":{"field":"c","type":"nominal","scale":{"domain":["a","b","c"],"range":["#2e8a8a","#7f8a2a","#d2cc5a"]},"legend":null}}},
{"transform":[{"filter":"datum.k==='g' && datum.t!==''"}],
 "mark":{"type":"rule","color":"#86d3c6","strokeWidth":1},
 "encoding":{"x":{"datum":60,"type":"quantitative"},"x2":{"datum":198.5},"y":{"field":"f","type":"quantitative"}}},
{"transform":[{"filter":"datum.k==='g' && datum.t===''"}],
 "mark":{"type":"rule","color":"#5fc3b5","strokeWidth":1},
 "encoding":{"y":{"field":"f","type":"quantitative"}}},
{"transform":[{"filter":"datum.k==='l'"}],
 "mark":{"type":"rule","color":"#5aaa32","strokeWidth":1.6},
 "encoding":{"y":{"datum":1,"type":"quantitative"}}},
{"transform":[{"filter":"datum.k==='c'"}],
 "mark":{"type":"area","interpolate":"monotone","color":"#2f9a6a","opacity":0.2,"clip":true},
 "encoding":{"x":{"field":"v","type":"quantitative"},"y":{"field":"hi","type":"quantitative"},"y2":{"field":"lo"},"detail":{"field":"c"}}},
{"transform":[{"filter":"datum.k==='c'"}],
 "mark":{"type":"line","interpolate":"monotone","color":"#56a83a","strokeWidth":1.1,"clip":true},
 "encoding":{"x":{"field":"v","type":"quantitative"},"y":{"field":"hi","type":"quantitative"},"detail":{"field":"c"}}},
{"transform":[{"filter":"datum.k==='c'"}],
 "mark":{"type":"line","interpolate":"monotone","color":"#2e7d4a","strokeWidth":1.1,"clip":true},
 "encoding":{"x":{"field":"v","type":"quantitative"},"y":{"field":"lo","type":"quantitative"},"detail":{"field":"c"}}},
{"transform":[{"filter":"datum.k==='b' && datum.sg==='a'"}],
 "mark":{"type":"area","interpolate":"monotone","color":"#d2a273","opacity":0.9,"clip":true},
 "encoding":{"x":{"field":"v","type":"quantitative"},"y":{"field":"hi","type":"quantitative"},"y2":{"field":"lo"}}},
{"transform":[{"filter":"datum.k==='b' && datum.sg==='b'"}],
 "mark":{"type":"area","interpolate":"monotone","color":"#f5ba7c","opacity":0.9,"clip":true},
 "encoding":{"x":{"field":"v","type":"quantitative"},"y":{"field":"hi","type":"quantitative"},"y2":{"field":"lo"}}},
{"transform":[{"filter":"datum.k==='b'"}],
 "mark":{"type":"line","interpolate":"monotone","color":"#ec7422","strokeWidth":1.8,"clip":true},
 "encoding":{"x":{"field":"v","type":"quantitative"},"y":{"field":"hi","type":"quantitative"},"detail":{"field":"sg"}}},
{"transform":[{"filter":"datum.k==='b'"}],
 "mark":{"type":"line","interpolate":"monotone","color":"#ec7422","strokeWidth":1.8,"clip":true},
 "encoding":{"x":{"field":"v","type":"quantitative"},"y":{"field":"lo","type":"quantitative"},"detail":{"field":"sg"}}},
{"transform":[{"filter":"datum.k==='r'"}],
 "mark":{"type":"line","interpolate":"monotone","color":"#e8302a","strokeWidth":1,"clip":true},
 "encoding":{"x":{"field":"v","type":"quantitative"},"y":{"field":"f","type":"quantitative"}}},
{"transform":[{"filter":"datum.k==='s' && datum.v>60.5 && datum.v<219.5 && datum.f>=0.7"}],
 "mark":{"type":"errorbar","color":"#222","thickness":0.9,"ticks":{"size":5,"color":"#222","thickness":0.9},"clip":true},
 "encoding":{
  "x":{"field":"v","type":"quantitative","scale":{"domain":[60,220],"nice":false,"zero":false},
   "axis":{"title":null,"values":[100,150,200],"tickSize":-7,"labelPadding":10,"labelOverlap":false,"labelFlush":false}},
  "y":{"field":"f","type":"quantitative","scale":{"domain":[0.7,1.337],"nice":false,"zero":false},
   "axis":{"title":"Normalized flux","values":[0.7,0.8,0.9,1,1.1,1.2,1.3],"labelExpr":"abs(datum.value-1)<0.001 ? '1.0' : ''","tickSize":-4,"labelPadding":10,"labelOverlap":false,"titleFontSize":20,"titlePadding":4}},
  "yError":{"field":"e"}}},
{"transform":[{"filter":"datum.k==='s'"}],
 "mark":{"type":"line","interpolate":"step","color":"#000","strokeWidth":1.3,"clip":true},
 "encoding":{"x":{"field":"v","type":"quantitative"},"y":{"field":"f","type":"quantitative"}}},
{"transform":[{"filter":"datum.k==='q'"}],
 "mark":{"type":"line","interpolate":"step","color":"#6a6af2","strokeWidth":4.2,"clip":true},
 "encoding":{"x":{"field":"v","type":"quantitative"},"y":{"field":"f","type":"quantitative"}}},
{"transform":[{"filter":"datum.k==='q'"}],
 "mark":{"type":"line","interpolate":"step","color":"#c9c9fc","strokeWidth":1.6,"clip":true},
 "encoding":{"x":{"field":"v","type":"quantitative"},"y":{"field":"f","type":"quantitative"}}},
{"transform":[{"filter":"datum.k==='g' && datum.t!==''"}],
 "mark":{"type":"text","align":"right","baseline":"middle","fontSize":20,"color":"#20aa9c","font":"DejaVu Sans"},
 "encoding":{"x":{"datum":219,"type":"quantitative"},"y":{"field":"f","type":"quantitative"},"text":{"field":"t"}}},
{"transform":[{"filter":"datum.k==='l'"}],
 "mark":{"type":"text","align":"left","baseline":"alphabetic","fontSize":22,"color":"#000","font":"DejaVu Sans"},
 "encoding":{"x":{"datum":65,"type":"quantitative"},"y":{"datum":0.725,"type":"quantitative"},"text":{"field":"t"}}}
]},
"config":{
 "font":"DejaVu Sans",
 "view":{"stroke":"#1a1a1a","strokeWidth":1},
 "axis":{"domain":false,"grid":false,"labelOverlap":false,"labelFont":"DejaVu Sans","labelFontSize":19,"labelColor":"#000","tickColor":"#333","tickWidth":1,"titleFont":"DejaVu Sans","titleFontWeight":"normal","titleColor":"#000"}
}
}
